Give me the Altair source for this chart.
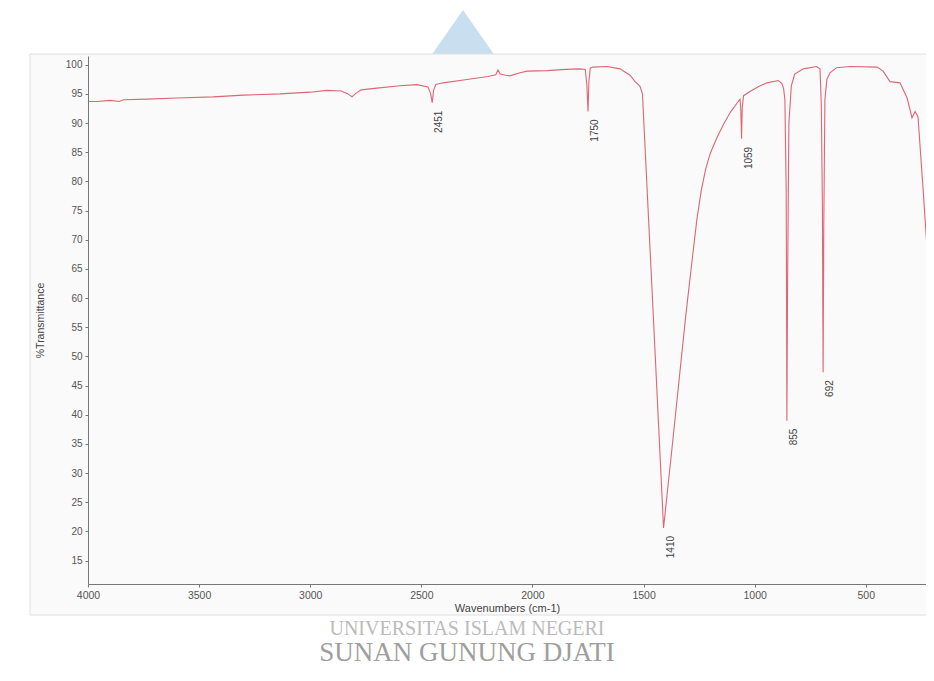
import altair as alt
import pandas as pd

# ---- data ----
wavenumber = [4000, 3960, 3900, 3860, 3840, 3735, 3600, 3437, 3300, 3136, 3000, 2925,
              2860, 2830, 2812, 2795, 2770, 2700, 2596, 2520, 2470, 2458, 2451, 2445,
              2435, 2402, 2311, 2200, 2165, 2155, 2145, 2120, 2101, 2060, 2024, 1934,
              1850, 1786, 1762, 1755, 1750, 1746, 1740, 1727, 1664, 1606, 1561, 1538,
              1516, 1505, 1460, 1420, 1410, 1400, 1370, 1340, 1310, 1280, 1260, 1240,
              1220, 1200, 1170, 1140, 1110, 1080, 1066, 1062, 1059, 1056, 1050, 1021,
              980, 945, 894, 878, 870, 864, 858, 855, 852, 846, 835, 820, 781, 722, 706,
              700, 695, 692, 689, 684, 675, 661, 631, 571, 449, 422, 391, 346, 314, 292,
              278, 265, 242, 224, 220]
transmittance = [93.7, 93.7, 93.9, 93.7, 94.0, 94.1, 94.3, 94.5, 94.8, 95.0, 95.3, 95.6,
                 95.5, 95.0, 94.5, 95.1, 95.7, 96.0, 96.4, 96.6, 96.2, 95.0, 93.5, 95.6,
                 96.6, 96.9, 97.4, 98.0, 98.3, 99.1, 98.4, 98.2, 98.1, 98.6, 98.9, 99.0,
                 99.2, 99.3, 99.2, 96.5, 92.0, 97.0, 99.4, 99.6, 99.7, 99.3, 98.2, 97.1,
                 96.3, 95.0, 60.0, 28.5, 20.6, 24.2, 35.0, 46.0, 57.0, 67.0, 73.5, 78.5,
                 82.2, 84.8, 87.5, 89.8, 91.8, 93.4, 94.1, 92.0, 87.3, 92.5, 94.7, 95.4,
                 96.3, 96.9, 97.3, 96.8, 96.0, 94.0, 78.0, 39.0, 62.0, 90.0, 96.4, 98.4,
                 99.3, 99.7, 99.3, 93.0, 75.0, 47.3, 72.0, 94.0, 97.5, 98.6, 99.5, 99.7,
                 99.6, 98.9, 97.1, 96.9, 94.3, 90.9, 92.0, 91.1, 78.6, 68.3, 58.4]

peak_wavenumber = [2451, 1750, 1410, 1059, 855, 692]
peak_transmittance = [93.5, 92.0, 20.6, 87.3, 39.0, 47.3]

x_ticks = [4000, 3500, 3000, 2500, 2000, 1500, 1000, 500]
y_ticks = list(range(15, 101, 5))

x_title = "Wavenumbers (cm-1)"
y_title = "%Transmittance"
watermark_top = "UNIVERSITAS ISLAM NEGERI"
watermark_bottom = "SUNAN GUNUNG DJATI"

W, H = 838, 528
FONT = "Liberation Sans"

spec = pd.DataFrame({"wn": wavenumber, "t": transmittance})
peaks = pd.DataFrame({"wn": peak_wavenumber, "t": peak_transmittance,
                      "label": [str(p) for p in peak_wavenumber]})
one = pd.DataFrame({"k": [0]})

x_scale = alt.Scale(domain=[229, 4000], reverse=True, nice=False, zero=False)
y_scale = alt.Scale(domain=[11, 101.5], nice=False, zero=False)

x_axis = alt.Axis(values=x_ticks, title=x_title, grid=False, tickSize=3, labelPadding=3,
                  labelFontSize=10.5, titleFontSize=11, labelColor="#555", titleColor="#444",
                  domainColor="#777", tickColor="#777", titlePadding=2, labelOverlap=False,
                  labelFlush=False, titleFontWeight="normal", format="d", zindex=2,
                  labelFont=FONT, titleFont=FONT)
y_axis = alt.Axis(values=y_ticks, title=y_title, grid=False, tickSize=3, labelPadding=3,
                  labelFontSize=10, titleFontSize=10.5, labelColor="#555", titleColor="#444",
                  domainColor="#777", tickColor="#777", titleX=-48, titleY=H / 2,
                  titleAngle=270, titleBaseline="middle", titleAlign="center",
                  labelOverlap=False, titleFontWeight="normal", zindex=2,
                  labelFont=FONT, titleFont=FONT)

# decoration: watermark triangle and outer frame
tri = alt.Chart(one).mark_point(shape="M0,-1L-1.4,1L1.4,1Z", filled=True, size=2500,
                                color="#c9dff0", opacity=1).encode(
    x=alt.value(375), y=alt.value(-21))
frame = alt.Chart(one).mark_rect(fill="#fafafa", stroke="#dedede", strokeWidth=1).encode(
    x=alt.value(-58), x2=alt.value(W + 2), y=alt.value(-2), y2=alt.value(H + 31))

line = alt.Chart(spec).mark_line(color="#dd6674", strokeWidth=1.1).encode(
    x=alt.X("wn:Q", scale=x_scale, axis=x_axis),
    y=alt.Y("t:Q", scale=y_scale, axis=y_axis),
    order=alt.Order("wn:Q", sort="descending"),
)

labels = alt.Chart(peaks).mark_text(angle=270, align="right", baseline="middle", dx=-8, dy=7,
                                    fontSize=10, color="#444", font=FONT).encode(
    x=alt.X("wn:Q", scale=x_scale, axis=x_axis),
    y=alt.Y("t:Q", scale=y_scale, axis=y_axis),
    text="label:N",
)

wm1 = alt.Chart(pd.DataFrame({"txt": [watermark_top]})).mark_text(
    font="Liberation Serif", fontSize=20, color="#bbbbbb", align="center", baseline="middle").encode(
    x=alt.value(379), y=alt.value(573), text="txt:N")
wm2 = alt.Chart(pd.DataFrame({"txt": [watermark_bottom]})).mark_text(
    font="Liberation Serif", fontSize=27, color="#9e9e9e", align="center", baseline="middle").encode(
    x=alt.value(379), y=alt.value(597), text="txt:N")

chart = alt.layer(tri, frame, line, labels, wm1, wm2).properties(
    width=W, height=H,
    autosize=alt.AutoSizeParams(type="none"),
    padding={"left": 80, "top": 48, "right": 0, "bottom": 88},
    background="white",
).configure_view(stroke=None)

chart.save("out.html", embed_options={"renderer": "svg", "actions": False})
